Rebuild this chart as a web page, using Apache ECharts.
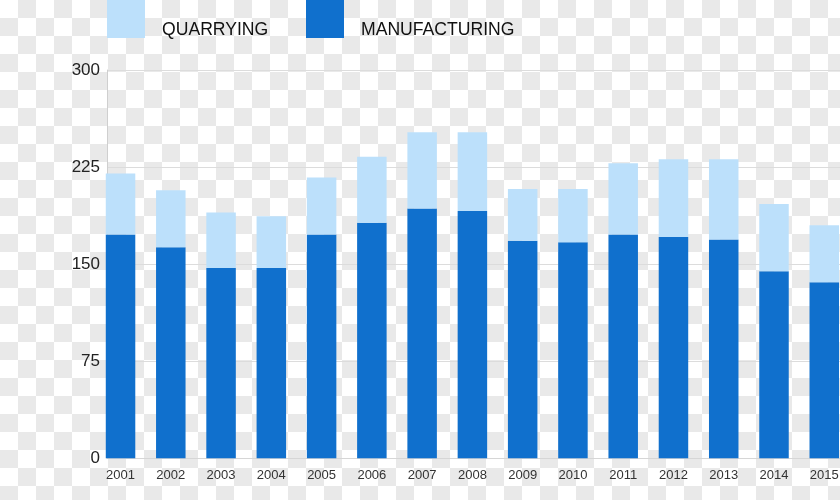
<!DOCTYPE html>
<html>
<head>
<meta charset="utf-8">
<script src="https://cdn.jsdelivr.net/npm/echarts@6/dist/echarts.min.js"></script>
<style>
  html, body { margin: 0; padding: 0; }
  body {
    width: 840px; height: 500px; overflow: hidden;
    background: repeating-conic-gradient(#e9e9e9 0 25%, #ffffff 0 50%) 0 0 / 36px 36px;
  }
  #chart { width: 840px; height: 500px; }
</style>
</head>
<body>
<div id="chart"></div>
<script>
const years = ['2001','2002','2003','2004','2005','2006','2007','2008','2009','2010','2011','2012','2013','2014','2015'];
const manufacturing = [173, 163, 147, 147, 173, 182, 193, 191, 168, 167, 173, 171, 169, 144.5, 136];
const quarrying = [47, 44, 43, 40, 44, 51, 59, 61, 40, 41, 55, 60, 62, 52, 44];
const yTicks = { min: 0, max: 300, interval: 75 };

const DARK = '#1070cd';
const LIGHT = '#bce0fb';
const FONT = '"Liberation Sans", Arial, Helvetica, sans-serif';

function legendFor(name, left) {
  return {
    left: left, top: 0, padding: 0, itemWidth: 38, itemHeight: 38, itemGap: 0,
    selectedMode: false, icon: 'rect',
    data: [name],
    formatter: '{t|{name}}',
    textStyle: {
      fontFamily: FONT, fontSize: 17.6, color: '#111',
      rich: { t: { fontFamily: FONT, fontSize: 17.6, color: '#111', padding: [22, 0, 0, 12] } }
    }
  };
}

const chart = echarts.init(document.getElementById('chart'), null, { renderer: 'canvas' });
chart.setOption({
  animation: false,
  backgroundColor: 'transparent',
  legend: [legendFor('QUARRYING', 107), legendFor('MANUFACTURING', 306)],
  grid: [
    { left: 95.4, width: 754, top: 70, bottom: 41.7, containLabel: false, outerBoundsMode: 'none' },
    { left: 107, right: 0, top: 70, bottom: 41.7, containLabel: false, outerBoundsMode: 'none' }
  ],
  xAxis: [
    {
      type: 'category', gridIndex: 0, data: years, boundaryGap: true,
      axisLine: { show: false }, axisTick: { show: false },
      axisLabel: { fontFamily: FONT, fontSize: 13, color: '#333', margin: 11, interval: 0 },
      splitLine: { show: false }
    },
    {
      type: 'value', gridIndex: 1, min: 0, max: 1,
      axisLine: { show: true, lineStyle: { color: '#d6d6d6', width: 1 } },
      axisTick: { show: false }, axisLabel: { show: false }, splitLine: { show: false }
    }
  ],
  yAxis: [
    {
      type: 'value', gridIndex: 0, min: yTicks.min, max: yTicks.max, interval: yTicks.interval,
      axisLine: { show: false }, axisTick: { show: false }, axisLabel: { show: false },
      splitLine: { show: false }
    },
    {
      type: 'value', gridIndex: 1, min: yTicks.min, max: yTicks.max, interval: yTicks.interval,
      axisLine: { show: true, lineStyle: { color: '#cfcfcf', width: 1 } },
      axisTick: { show: false },
      axisLabel: { fontFamily: FONT, fontSize: 17, color: '#222', margin: 7 },
      splitLine: { show: true, lineStyle: { color: '#dcdcdc', width: 1 } }
    }
  ],
  series: [
    {
      name: 'MANUFACTURING', type: 'bar', stack: 'total', xAxisIndex: 0, yAxisIndex: 0,
      barWidth: 29.5, data: manufacturing, itemStyle: { color: DARK }
    },
    {
      name: 'QUARRYING', type: 'bar', stack: 'total', xAxisIndex: 0, yAxisIndex: 0,
      barWidth: 29.5, data: quarrying, itemStyle: { color: LIGHT }
    }
  ]
});
</script>
</body>
</html>
